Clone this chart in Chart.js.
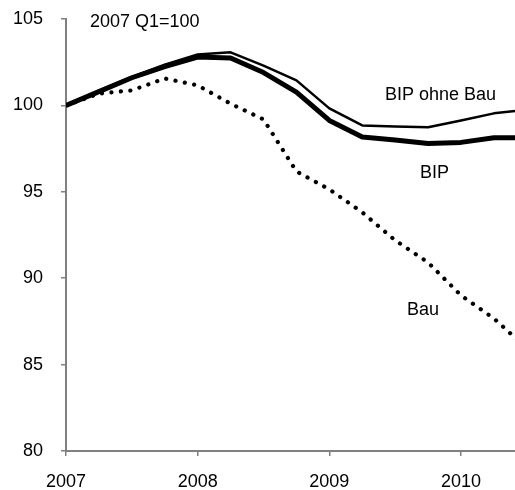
<!DOCTYPE html>
<html>
<head>
<meta charset="utf-8">
<script src="https://cdn.jsdelivr.net/npm/chart.js@4/dist/chart.umd.min.js"></script>
<style>
  html, body { margin: 0; padding: 0; background: #fff; }
  #wrap { width: 515px; height: 490px; }
</style>
</head>
<body>
<div id="wrap"><canvas id="myChart"></canvas></div>
<script>
// quarters 2007 Q1 .. 2010 Q3 as decimal years
var quarters = [2007.00, 2007.25, 2007.50, 2007.75, 2008.00, 2008.25, 2008.50, 2008.75,
                2009.00, 2009.25, 2009.50, 2009.75, 2010.00, 2010.25, 2010.50]
var bipOhneBau = [100, 100.85, 101.65, 102.35, 102.95, 103.07, 102.3, 101.45,
                  99.83, 98.84, 98.78, 98.73, 99.13, 99.54, 99.75]
var bip = [100, 100.8, 101.6, 102.25, 102.8, 102.74, 101.9, 100.77,
           99.13, 98.17, 98.0, 97.8, 97.86, 98.13, 98.13]
var bau = [100, 100.68, 100.87, 101.56, 101.16, 100.1, 99.19, 96.18,
           95.14, 93.81, 92.19, 90.91, 89.0, 87.67, 85.94]
var yearTicks = [2007, 2008, 2009, 2010]
var yTicks = [80, 85, 90, 95, 100, 105]

function points(vals) {
  return vals.map(function(v, i) { return {x: quarters[i], y: v} })
}

var FONT = '"Liberation Sans", Arial, sans-serif'
Chart.defaults.font.family = FONT
Chart.defaults.font.size = 18
Chart.defaults.color = '#000'

// text labels inside the plot
var labelPlugin = {
  id: 'labels',
  afterDraw: function(chart) {
    var c = chart.ctx
    c.save()
    c.font = '18px ' + FONT
    c.fillStyle = '#000'
    c.textBaseline = 'alphabetic'
    c.textAlign = 'left'
    c.fillText('2007 Q1=100', 90, 27)
    c.fillText('BIP ohne Bau', 385, 100)
    c.fillText('BIP', 420, 178)
    c.fillText('Bau', 407, 315)
    c.restore()
  }
}

var ctx = document.getElementById('myChart').getContext('2d')
var myChart = new Chart(ctx, {
  type: 'line',
  data: {
    datasets: [
      {label: 'BIP ohne Bau', data: points(bipOhneBau), borderColor: '#000', borderWidth: 2.5,
       pointRadius: 0, tension: 0, borderJoinStyle: 'round'},
      {label: 'BIP', data: points(bip), borderColor: '#000', borderWidth: 5,
       pointRadius: 0, tension: 0, borderJoinStyle: 'round'},
      {label: 'Bau', data: points(bau), borderColor: '#000', borderWidth: 4.2,
       borderDash: [0.1, 9.4], borderCapStyle: 'round',
       pointRadius: 0, tension: 0}
    ]
  },
  options: {
    responsive: true,
    maintainAspectRatio: false,
    animation: false,
    layout: {padding: {top: 19, left: 0, right: 0, bottom: 0}},
    plugins: {legend: {display: false}, tooltip: {enabled: false}},
    scales: {
      x: {
        type: 'linear',
        min: 2007,
        max: 2010.41,
        afterBuildTicks: function(s) { s.ticks = yearTicks.map(function(v) { return {value: v} }) },
        afterFit: function(s) { s.height = 39 },
        grid: {drawOnChartArea: false, drawTicks: true, tickLength: 5, color: '#808080', lineWidth: 1.5},
        border: {color: '#808080', width: 2},
        ticks: {padding: 15, maxRotation: 0, autoSkip: false,
                callback: function(v) { return String(v) }}
      },
      y: {
        min: 80,
        max: 105,
        afterBuildTicks: function(s) { s.ticks = yTicks.map(function(v) { return {value: v} }) },
        afterFit: function(s) { s.width = 66; s.paddingTop = 10; s.paddingBottom = 10 },
        grid: {drawOnChartArea: false, drawTicks: true, tickLength: 5, color: '#808080', lineWidth: 1.5},
        border: {color: '#808080', width: 2},
        ticks: {padding: 18}
      }
    }
  },
  plugins: [labelPlugin]
})
</script>
</body>
</html>
